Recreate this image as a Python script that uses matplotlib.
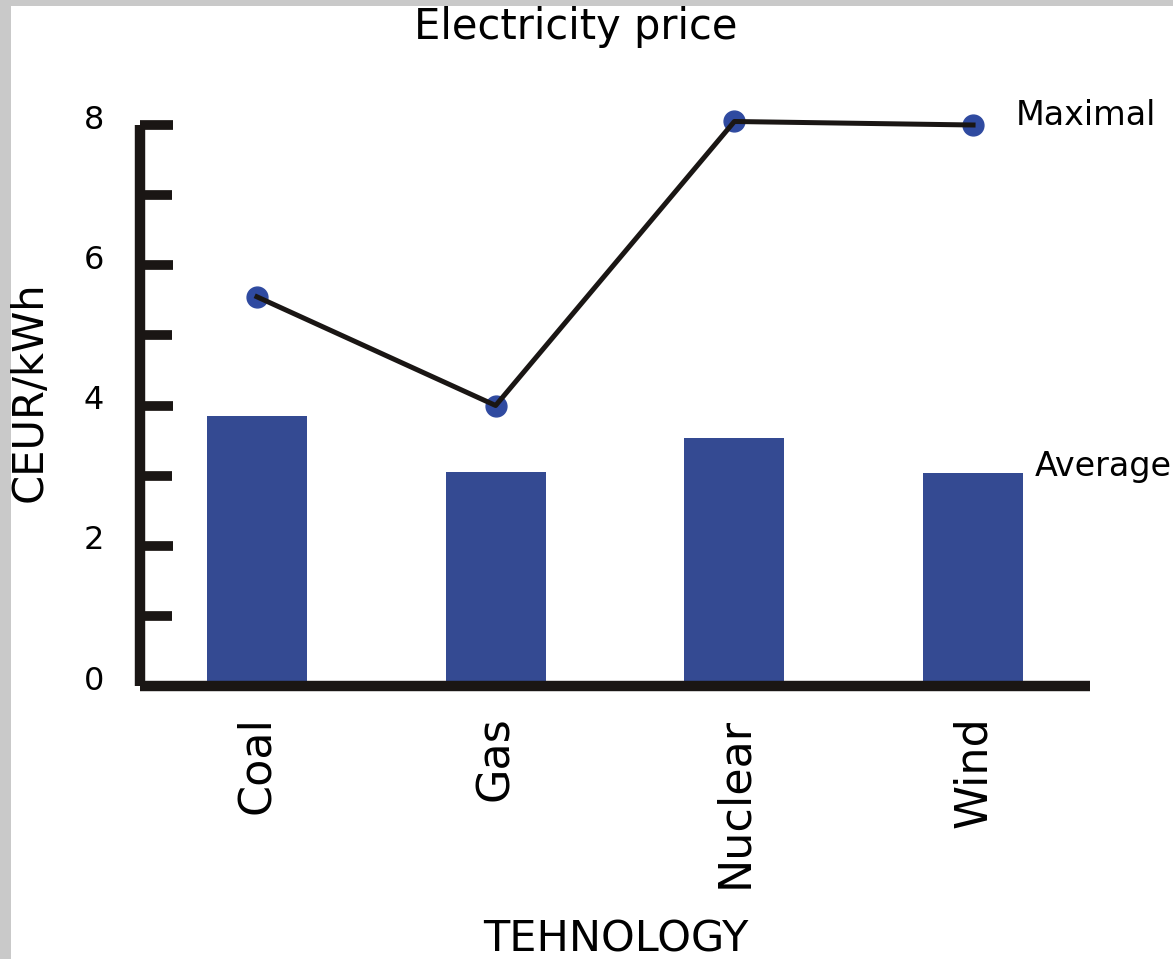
import matplotlib
matplotlib.use("Agg")
import matplotlib.pyplot as plt
from matplotlib.patches import Rectangle
from matplotlib.ticker import MultipleLocator
from matplotlib.transforms import ScaledTranslation

# Data
technologies = ["Coal", "Gas", "Nuclear", "Wind"]
average_price = [3.85, 3.05, 3.53, 3.04]
maximal_price = [5.55, 4.0, 8.05, 8.0]

BAR_COLOR = "#344a92"
DOT_COLOR = "#2f4aa0"
INK = "#1a1614"

plt.rcParams["font.family"] = ["DejaVu Sans"]

fig = plt.figure(figsize=(11.73, 9.59), dpi=100, facecolor="#c9c9c9")
# white sheet over the grey marble backdrop
fig.patches.append(Rectangle((11 / 1173, 0), 1, 1 - 6 / 959, transform=fig.transFigure,
                             facecolor="white", edgecolor="none", zorder=-10))

ax = fig.add_axes([140 / 1173, 273 / 959, 950 / 1173, 561 / 959])
ax.set_facecolor("none")

x = list(range(len(technologies)))
ax.bar(x, average_price, width=0.42, color=BAR_COLOR, zorder=2)
ax.plot(x, maximal_price, color=INK, linewidth=3.6, zorder=3, clip_on=False)
ax.plot(x, maximal_price, linestyle="none", marker="o", markersize=15,
        color=DOT_COLOR, zorder=2.5, clip_on=False)

ax.set_xlim(-0.49, 3.49)
ax.set_ylim(0, 8)

for side in ("top", "right"):
    ax.spines[side].set_visible(False)
for side in ("left", "bottom"):
    ax.spines[side].set_linewidth(7.5)
    ax.spines[side].set_color(INK)
    ax.spines[side].set_capstyle("butt")

ax.yaxis.set_major_locator(MultipleLocator(2))
ax.yaxis.set_minor_locator(MultipleLocator(1))
ax.tick_params(axis="y", which="both", direction="in", length=24, width=7,
               color=INK, labelsize=23, pad=26)
ax.tick_params(axis="y", which="minor", length=23)
ax.set_yticks([0, 2, 4, 6, 8])
ax.set_yticklabels(["0", "2", "4", "6", "8"])
# numbers sit a little above their ticks in the original
lift = ScaledTranslation(0, 6 / 72, fig.dpi_scale_trans)
for lab in ax.get_yticklabels():
    lab.set_transform(lab.get_transform() + lift)

ax.set_xticks(x)
ax.set_xticklabels(technologies, rotation=90, fontsize=32)
ax.tick_params(axis="x", length=0, pad=22)

ax.set_ylabel("CEUR/kWh", fontsize=30)
ax.yaxis.set_label_coords(-0.094, 0.525)
fig.text(576 / 1173, 1 - 27 / 959, "Electricity price", ha="center", va="center", fontsize=30)
fig.text(616 / 1173, 1 - 940 / 959, "TEHNOLOGY", ha="center", va="center", fontsize=31)

ax.text(3.18, 8.14, "Maximal", ha="left", va="center", fontsize=24, clip_on=False)
ax.text(3.26, 3.13, "Average", ha="left", va="center", fontsize=24, clip_on=False)

fig.savefig("out.png", dpi=100, facecolor=fig.get_facecolor())
